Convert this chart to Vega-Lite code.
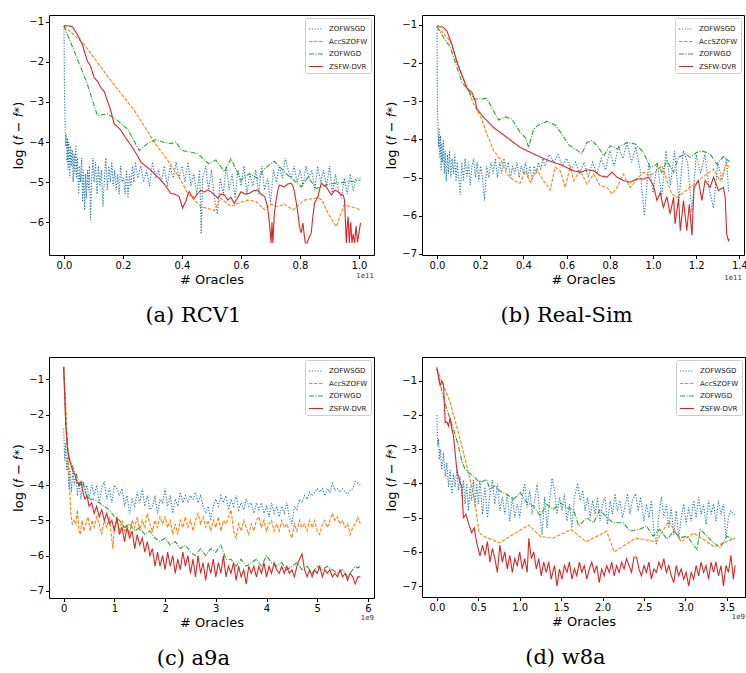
{
"$schema":"https://vega.github.io/schema/vega-lite/v6.json",
"padding":{"left":12,"top":14,"right":0,"bottom":0},
"config":{
"font":"DejaVu Sans",
"view":{"stroke":"black","strokeWidth":1},
"axis":{"grid":false,"domain":false,"tickColor":"black","tickSize":3.5,"tickCount":12,"labelFontSize":10,"labelColor":"black","labelPadding":2,"labelOverlap":false,"labelFlush":false,"titleFontSize":13,"titleFontWeight":"normal","titleColor":"black","titlePadding":3},
"legend":{"orient":"top-right","offset":3,"padding":3,"fillColor":"white","strokeColor":"#cccccc","cornerRadius":2,"labelFontSize":7,"labelColor":"#222","symbolType":"stroke","symbolSize":196,"symbolStrokeWidth":1.2,"rowPadding":1.5,"labelOffset":5},
"title":{"font":"DejaVu Serif","fontSize":21,"fontWeight":"normal","color":"black"}
},
"datasets":{
"a":[
{"s":"ZOFWSGD","x":0,"y":-1.1},{"s":"ZOFWSGD","x":0.002,"y":-3.0},{"s":"ZOFWSGD","x":0.004,"y":-3.6},{"s":"ZOFWSGD","x":0.006,"y":-4.1},{"s":"ZOFWSGD","x":0.008,"y":-3.8},{"s":"ZOFWSGD","x":0.01,"y":-4.5},{"s":"ZOFWSGD","x":0.012,"y":-3.9},{"s":"ZOFWSGD","x":0.014,"y":-4.7},{"s":"ZOFWSGD","x":0.016,"y":-4.0},{"s":"ZOFWSGD","x":0.018,"y":-4.4},{"s":"ZOFWSGD","x":0.02,"y":-4.9},{"s":"ZOFWSGD","x":0.022,"y":-4.1},{"s":"ZOFWSGD","x":0.025,"y":-4.6},{"s":"ZOFWSGD","x":0.028,"y":-4.2},{"s":"ZOFWSGD","x":0.031,"y":-5.0},{"s":"ZOFWSGD","x":0.034,"y":-4.3},{"s":"ZOFWSGD","x":0.037,"y":-4.8},{"s":"ZOFWSGD","x":0.04,"y":-4.1},{"s":"ZOFWSGD","x":0.043,"y":-4.9},{"s":"ZOFWSGD","x":0.046,"y":-4.4},{"s":"ZOFWSGD","x":0.05,"y":-5.3},{"s":"ZOFWSGD","x":0.053,"y":-4.6},{"s":"ZOFWSGD","x":0.056,"y":-5.0},{"s":"ZOFWSGD","x":0.06,"y":-4.4},{"s":"ZOFWSGD","x":0.063,"y":-5.5},{"s":"ZOFWSGD","x":0.066,"y":-4.7},{"s":"ZOFWSGD","x":0.07,"y":-5.7},{"s":"ZOFWSGD","x":0.073,"y":-4.8},{"s":"ZOFWSGD","x":0.076,"y":-5.4},{"s":"ZOFWSGD","x":0.08,"y":-4.7},{"s":"ZOFWSGD","x":0.083,"y":-5.2},{"s":"ZOFWSGD","x":0.086,"y":-4.6},{"s":"ZOFWSGD","x":0.09,"y":-5.95},{"s":"ZOFWSGD","x":0.094,"y":-4.9},{"s":"ZOFWSGD","x":0.098,"y":-4.4},{"s":"ZOFWSGD","x":0.102,"y":-5.0},{"s":"ZOFWSGD","x":0.107,"y":-4.5},{"s":"ZOFWSGD","x":0.112,"y":-5.3},{"s":"ZOFWSGD","x":0.117,"y":-4.6},{"s":"ZOFWSGD","x":0.122,"y":-5.1},{"s":"ZOFWSGD","x":0.127,"y":-4.7},{"s":"ZOFWSGD","x":0.132,"y":-5.6},{"s":"ZOFWSGD","x":0.137,"y":-4.9},{"s":"ZOFWSGD","x":0.142,"y":-4.4},{"s":"ZOFWSGD","x":0.147,"y":-5.2},{"s":"ZOFWSGD","x":0.152,"y":-4.6},{"s":"ZOFWSGD","x":0.157,"y":-5.0},{"s":"ZOFWSGD","x":0.162,"y":-4.5},{"s":"ZOFWSGD","x":0.167,"y":-5.1},{"s":"ZOFWSGD","x":0.172,"y":-4.7},{"s":"ZOFWSGD","x":0.177,"y":-5.2},{"s":"ZOFWSGD","x":0.182,"y":-4.8},{"s":"ZOFWSGD","x":0.187,"y":-5.3},{"s":"ZOFWSGD","x":0.192,"y":-4.6},{"s":"ZOFWSGD","x":0.197,"y":-5.0},{"s":"ZOFWSGD","x":0.202,"y":-4.9},{"s":"ZOFWSGD","x":0.207,"y":-5.3},{"s":"ZOFWSGD","x":0.212,"y":-4.7},{"s":"ZOFWSGD","x":0.217,"y":-5.4},{"s":"ZOFWSGD","x":0.222,"y":-4.8},{"s":"ZOFWSGD","x":0.227,"y":-5.1},{"s":"ZOFWSGD","x":0.232,"y":-4.6},{"s":"ZOFWSGD","x":0.237,"y":-5.0},{"s":"ZOFWSGD","x":0.242,"y":-4.5},{"s":"ZOFWSGD","x":0.25,"y":-4.9},{"s":"ZOFWSGD","x":0.26,"y":-4.6},{"s":"ZOFWSGD","x":0.27,"y":-5.0},{"s":"ZOFWSGD","x":0.28,"y":-4.7},{"s":"ZOFWSGD","x":0.29,"y":-5.1},{"s":"ZOFWSGD","x":0.3,"y":-4.5},{"s":"ZOFWSGD","x":0.31,"y":-4.9},{"s":"ZOFWSGD","x":0.32,"y":-4.7},{"s":"ZOFWSGD","x":0.33,"y":-5.0},{"s":"ZOFWSGD","x":0.34,"y":-4.6},{"s":"ZOFWSGD","x":0.35,"y":-5.1},{"s":"ZOFWSGD","x":0.36,"y":-4.6},{"s":"ZOFWSGD","x":0.37,"y":-4.9},{"s":"ZOFWSGD","x":0.38,"y":-4.5},{"s":"ZOFWSGD","x":0.39,"y":-4.9},{"s":"ZOFWSGD","x":0.4,"y":-4.6},{"s":"ZOFWSGD","x":0.41,"y":-5.0},{"s":"ZOFWSGD","x":0.42,"y":-4.5},{"s":"ZOFWSGD","x":0.43,"y":-5.1},{"s":"ZOFWSGD","x":0.44,"y":-4.8},{"s":"ZOFWSGD","x":0.45,"y":-5.3},{"s":"ZOFWSGD","x":0.46,"y":-4.7},{"s":"ZOFWSGD","x":0.465,"y":-6.3},{"s":"ZOFWSGD","x":0.47,"y":-4.9},{"s":"ZOFWSGD","x":0.48,"y":-4.6},{"s":"ZOFWSGD","x":0.49,"y":-5.2},{"s":"ZOFWSGD","x":0.5,"y":-4.7},{"s":"ZOFWSGD","x":0.51,"y":-5.4},{"s":"ZOFWSGD","x":0.52,"y":-5.8},{"s":"ZOFWSGD","x":0.53,"y":-4.9},{"s":"ZOFWSGD","x":0.54,"y":-5.3},{"s":"ZOFWSGD","x":0.55,"y":-4.6},{"s":"ZOFWSGD","x":0.56,"y":-5.2},{"s":"ZOFWSGD","x":0.57,"y":-4.8},{"s":"ZOFWSGD","x":0.58,"y":-5.4},{"s":"ZOFWSGD","x":0.59,"y":-4.7},{"s":"ZOFWSGD","x":0.6,"y":-5.1},{"s":"ZOFWSGD","x":0.61,"y":-4.6},{"s":"ZOFWSGD","x":0.62,"y":-5.3},{"s":"ZOFWSGD","x":0.63,"y":-4.8},{"s":"ZOFWSGD","x":0.64,"y":-5.1},{"s":"ZOFWSGD","x":0.65,"y":-4.7},{"s":"ZOFWSGD","x":0.66,"y":-5.3},{"s":"ZOFWSGD","x":0.67,"y":-4.6},{"s":"ZOFWSGD","x":0.68,"y":-5.2},{"s":"ZOFWSGD","x":0.69,"y":-4.9},{"s":"ZOFWSGD","x":0.7,"y":-5.5},{"s":"ZOFWSGD","x":0.71,"y":-4.7},{"s":"ZOFWSGD","x":0.72,"y":-5.0},{"s":"ZOFWSGD","x":0.73,"y":-4.6},{"s":"ZOFWSGD","x":0.74,"y":-4.9},{"s":"ZOFWSGD","x":0.75,"y":-4.4},{"s":"ZOFWSGD","x":0.76,"y":-4.7},{"s":"ZOFWSGD","x":0.77,"y":-4.9},{"s":"ZOFWSGD","x":0.78,"y":-4.6},{"s":"ZOFWSGD","x":0.79,"y":-5.0},{"s":"ZOFWSGD","x":0.8,"y":-4.7},{"s":"ZOFWSGD","x":0.81,"y":-5.1},{"s":"ZOFWSGD","x":0.82,"y":-4.6},{"s":"ZOFWSGD","x":0.83,"y":-4.9},{"s":"ZOFWSGD","x":0.84,"y":-4.7},{"s":"ZOFWSGD","x":0.85,"y":-5.2},{"s":"ZOFWSGD","x":0.86,"y":-4.6},{"s":"ZOFWSGD","x":0.87,"y":-5.0},{"s":"ZOFWSGD","x":0.88,"y":-4.7},{"s":"ZOFWSGD","x":0.89,"y":-5.1},{"s":"ZOFWSGD","x":0.9,"y":-4.6},{"s":"ZOFWSGD","x":0.91,"y":-5.3},{"s":"ZOFWSGD","x":0.92,"y":-4.8},{"s":"ZOFWSGD","x":0.93,"y":-5.2},{"s":"ZOFWSGD","x":0.94,"y":-5.4},{"s":"ZOFWSGD","x":0.95,"y":-4.9},{"s":"ZOFWSGD","x":0.96,"y":-5.3},{"s":"ZOFWSGD","x":0.97,"y":-4.8},{"s":"ZOFWSGD","x":0.98,"y":-5.2},{"s":"ZOFWSGD","x":0.99,"y":-4.9},{"s":"ZOFWSGD","x":1.005,"y":-4.9},
{"s":"AccSZOFW","x":0,"y":-1.1},{"s":"AccSZOFW","x":0.068,"y":-1.56},{"s":"AccSZOFW","x":0.159,"y":-2.47},{"s":"AccSZOFW","x":0.238,"y":-3.21},{"s":"AccSZOFW","x":0.317,"y":-4.12},{"s":"AccSZOFW","x":0.351,"y":-4.45},{"s":"AccSZOFW","x":0.396,"y":-4.95},{"s":"AccSZOFW","x":0.419,"y":-5.28},{"s":"AccSZOFW","x":0.464,"y":-5.61},{"s":"AccSZOFW","x":0.51,"y":-5.71},{"s":"AccSZOFW","x":0.53,"y":-5.4},{"s":"AccSZOFW","x":0.566,"y":-5.61},{"s":"AccSZOFW","x":0.6,"y":-5.5},{"s":"AccSZOFW","x":0.623,"y":-5.45},{"s":"AccSZOFW","x":0.65,"y":-5.48},{"s":"AccSZOFW","x":0.68,"y":-5.69},{"s":"AccSZOFW","x":0.7,"y":-5.55},{"s":"AccSZOFW","x":0.725,"y":-5.61},{"s":"AccSZOFW","x":0.747,"y":-5.55},{"s":"AccSZOFW","x":0.776,"y":-5.69},{"s":"AccSZOFW","x":0.815,"y":-5.45},{"s":"AccSZOFW","x":0.86,"y":-5.39},{"s":"AccSZOFW","x":0.875,"y":-5.45},{"s":"AccSZOFW","x":0.895,"y":-5.78},{"s":"AccSZOFW","x":0.923,"y":-6.11},{"s":"AccSZOFW","x":0.95,"y":-5.57},{"s":"AccSZOFW","x":0.975,"y":-5.62},{"s":"AccSZOFW","x":1.005,"y":-5.69},
{"s":"ZOFWGD","x":0,"y":-1.1},{"s":"ZOFWGD","x":0.057,"y":-2.14},{"s":"ZOFWGD","x":0.079,"y":-2.55},{"s":"ZOFWGD","x":0.113,"y":-3.34},{"s":"ZOFWGD","x":0.147,"y":-3.3},{"s":"ZOFWGD","x":0.181,"y":-3.46},{"s":"ZOFWGD","x":0.215,"y":-3.67},{"s":"ZOFWGD","x":0.255,"y":-4.21},{"s":"ZOFWGD","x":0.283,"y":-4.04},{"s":"ZOFWGD","x":0.311,"y":-3.94},{"s":"ZOFWGD","x":0.335,"y":-4.0},{"s":"ZOFWGD","x":0.362,"y":-4.04},{"s":"ZOFWGD","x":0.379,"y":-4.0},{"s":"ZOFWGD","x":0.4,"y":-4.21},{"s":"ZOFWGD","x":0.453,"y":-4.29},{"s":"ZOFWGD","x":0.49,"y":-4.54},{"s":"ZOFWGD","x":0.515,"y":-4.45},{"s":"ZOFWGD","x":0.544,"y":-4.74},{"s":"ZOFWGD","x":0.566,"y":-4.41},{"s":"ZOFWGD","x":0.6,"y":-4.95},{"s":"ZOFWGD","x":0.628,"y":-4.79},{"s":"ZOFWGD","x":0.657,"y":-4.91},{"s":"ZOFWGD","x":0.68,"y":-4.66},{"s":"ZOFWGD","x":0.713,"y":-4.48},{"s":"ZOFWGD","x":0.759,"y":-4.83},{"s":"ZOFWGD","x":0.804,"y":-5.12},{"s":"ZOFWGD","x":0.827,"y":-4.87},{"s":"ZOFWGD","x":0.855,"y":-5.16},{"s":"ZOFWGD","x":0.889,"y":-5.07},{"s":"ZOFWGD","x":0.917,"y":-5.03},{"s":"ZOFWGD","x":0.96,"y":-5.0},{"s":"ZOFWGD","x":1.005,"y":-4.95},
{"s":"ZSFW-DVR","x":0,"y":-1.1},{"s":"ZSFW-DVR","x":0.015,"y":-1.1},{"s":"ZSFW-DVR","x":0.028,"y":-1.12},{"s":"ZSFW-DVR","x":0.045,"y":-1.31},{"s":"ZSFW-DVR","x":0.062,"y":-1.56},{"s":"ZSFW-DVR","x":0.079,"y":-1.98},{"s":"ZSFW-DVR","x":0.09,"y":-2.1},{"s":"ZSFW-DVR","x":0.102,"y":-2.39},{"s":"ZSFW-DVR","x":0.115,"y":-2.5},{"s":"ZSFW-DVR","x":0.125,"y":-2.64},{"s":"ZSFW-DVR","x":0.137,"y":-2.75},{"s":"ZSFW-DVR","x":0.147,"y":-2.97},{"s":"ZSFW-DVR","x":0.158,"y":-3.2},{"s":"ZSFW-DVR","x":0.17,"y":-3.55},{"s":"ZSFW-DVR","x":0.182,"y":-3.62},{"s":"ZSFW-DVR","x":0.193,"y":-3.71},{"s":"ZSFW-DVR","x":0.205,"y":-3.85},{"s":"ZSFW-DVR","x":0.215,"y":-3.96},{"s":"ZSFW-DVR","x":0.227,"y":-4.08},{"s":"ZSFW-DVR","x":0.238,"y":-4.21},{"s":"ZSFW-DVR","x":0.25,"y":-4.35},{"s":"ZSFW-DVR","x":0.26,"y":-4.5},{"s":"ZSFW-DVR","x":0.277,"y":-4.6},{"s":"ZSFW-DVR","x":0.294,"y":-4.7},{"s":"ZSFW-DVR","x":0.31,"y":-4.82},{"s":"ZSFW-DVR","x":0.328,"y":-4.95},{"s":"ZSFW-DVR","x":0.345,"y":-5.1},{"s":"ZSFW-DVR","x":0.362,"y":-5.28},{"s":"ZSFW-DVR","x":0.375,"y":-5.3},{"s":"ZSFW-DVR","x":0.39,"y":-5.36},{"s":"ZSFW-DVR","x":0.396,"y":-5.5},{"s":"ZSFW-DVR","x":0.402,"y":-5.65},{"s":"ZSFW-DVR","x":0.408,"y":-5.55},{"s":"ZSFW-DVR","x":0.413,"y":-5.49},{"s":"ZSFW-DVR","x":0.42,"y":-5.3},{"s":"ZSFW-DVR","x":0.425,"y":-5.24},{"s":"ZSFW-DVR","x":0.433,"y":-5.35},{"s":"ZSFW-DVR","x":0.442,"y":-5.4},{"s":"ZSFW-DVR","x":0.452,"y":-5.3},{"s":"ZSFW-DVR","x":0.464,"y":-5.2},{"s":"ZSFW-DVR","x":0.475,"y":-5.25},{"s":"ZSFW-DVR","x":0.487,"y":-5.2},{"s":"ZSFW-DVR","x":0.498,"y":-5.24},{"s":"ZSFW-DVR","x":0.51,"y":-5.32},{"s":"ZSFW-DVR","x":0.521,"y":-5.4},{"s":"ZSFW-DVR","x":0.532,"y":-5.3},{"s":"ZSFW-DVR","x":0.544,"y":-5.32},{"s":"ZSFW-DVR","x":0.555,"y":-5.45},{"s":"ZSFW-DVR","x":0.566,"y":-5.38},{"s":"ZSFW-DVR","x":0.577,"y":-5.53},{"s":"ZSFW-DVR","x":0.588,"y":-5.4},{"s":"ZSFW-DVR","x":0.6,"y":-5.24},{"s":"ZSFW-DVR","x":0.614,"y":-5.3},{"s":"ZSFW-DVR","x":0.628,"y":-5.28},{"s":"ZSFW-DVR","x":0.642,"y":-5.22},{"s":"ZSFW-DVR","x":0.657,"y":-5.2},{"s":"ZSFW-DVR","x":0.668,"y":-5.3},{"s":"ZSFW-DVR","x":0.68,"y":-5.36},{"s":"ZSFW-DVR","x":0.69,"y":-5.61},{"s":"ZSFW-DVR","x":0.696,"y":-6.0},{"s":"ZSFW-DVR","x":0.702,"y":-6.52},{"s":"ZSFW-DVR","x":0.705,"y":-6.0},{"s":"ZSFW-DVR","x":0.708,"y":-6.52},{"s":"ZSFW-DVR","x":0.713,"y":-5.8},{"s":"ZSFW-DVR","x":0.719,"y":-5.45},{"s":"ZSFW-DVR","x":0.725,"y":-5.2},{"s":"ZSFW-DVR","x":0.73,"y":-5.07},{"s":"ZSFW-DVR","x":0.74,"y":-5.1},{"s":"ZSFW-DVR","x":0.747,"y":-5.12},{"s":"ZSFW-DVR","x":0.758,"y":-5.05},{"s":"ZSFW-DVR","x":0.77,"y":-5.03},{"s":"ZSFW-DVR","x":0.776,"y":-5.1},{"s":"ZSFW-DVR","x":0.781,"y":-5.24},{"s":"ZSFW-DVR","x":0.787,"y":-5.5},{"s":"ZSFW-DVR","x":0.793,"y":-5.78},{"s":"ZSFW-DVR","x":0.798,"y":-6.1},{"s":"ZSFW-DVR","x":0.804,"y":-6.27},{"s":"ZSFW-DVR","x":0.81,"y":-6.02},{"s":"ZSFW-DVR","x":0.814,"y":-6.3},{"s":"ZSFW-DVR","x":0.818,"y":-6.52},{"s":"ZSFW-DVR","x":0.824,"y":-6.52},{"s":"ZSFW-DVR","x":0.83,"y":-6.4},{"s":"ZSFW-DVR","x":0.838,"y":-6.27},{"s":"ZSFW-DVR","x":0.843,"y":-5.9},{"s":"ZSFW-DVR","x":0.849,"y":-5.53},{"s":"ZSFW-DVR","x":0.855,"y":-5.45},{"s":"ZSFW-DVR","x":0.861,"y":-5.36},{"s":"ZSFW-DVR","x":0.866,"y":-5.2},{"s":"ZSFW-DVR","x":0.872,"y":-5.02},{"s":"ZSFW-DVR","x":0.88,"y":-5.08},{"s":"ZSFW-DVR","x":0.889,"y":-5.12},{"s":"ZSFW-DVR","x":0.9,"y":-5.25},{"s":"ZSFW-DVR","x":0.906,"y":-5.32},{"s":"ZSFW-DVR","x":0.918,"y":-5.2},{"s":"ZSFW-DVR","x":0.929,"y":-5.24},{"s":"ZSFW-DVR","x":0.937,"y":-5.3},{"s":"ZSFW-DVR","x":0.946,"y":-5.32},{"s":"ZSFW-DVR","x":0.951,"y":-5.45},{"s":"ZSFW-DVR","x":0.954,"y":-6.0},{"s":"ZSFW-DVR","x":0.957,"y":-6.52},{"s":"ZSFW-DVR","x":0.96,"y":-6.1},{"s":"ZSFW-DVR","x":0.963,"y":-5.86},{"s":"ZSFW-DVR","x":0.967,"y":-6.52},{"s":"ZSFW-DVR","x":0.972,"y":-6.0},{"s":"ZSFW-DVR","x":0.976,"y":-6.52},{"s":"ZSFW-DVR","x":0.98,"y":-6.3},{"s":"ZSFW-DVR","x":0.985,"y":-6.52},{"s":"ZSFW-DVR","x":0.99,"y":-6.1},{"s":"ZSFW-DVR","x":0.995,"y":-6.5},{"s":"ZSFW-DVR","x":1.005,"y":-6.02}
],
"b":[
{"s":"ZOFWSGD","x":0,"y":-1.05},{"s":"ZOFWSGD","x":0.002,"y":-3.2},{"s":"ZOFWSGD","x":0.004,"y":-3.6},{"s":"ZOFWSGD","x":0.007,"y":-4.2},{"s":"ZOFWSGD","x":0.01,"y":-3.7},{"s":"ZOFWSGD","x":0.013,"y":-4.5},{"s":"ZOFWSGD","x":0.016,"y":-3.9},{"s":"ZOFWSGD","x":0.019,"y":-4.8},{"s":"ZOFWSGD","x":0.022,"y":-4.1},{"s":"ZOFWSGD","x":0.026,"y":-4.6},{"s":"ZOFWSGD","x":0.03,"y":-4.0},{"s":"ZOFWSGD","x":0.034,"y":-4.9},{"s":"ZOFWSGD","x":0.038,"y":-4.3},{"s":"ZOFWSGD","x":0.043,"y":-5.1},{"s":"ZOFWSGD","x":0.048,"y":-4.4},{"s":"ZOFWSGD","x":0.053,"y":-4.9},{"s":"ZOFWSGD","x":0.058,"y":-4.3},{"s":"ZOFWSGD","x":0.064,"y":-5.0},{"s":"ZOFWSGD","x":0.07,"y":-4.5},{"s":"ZOFWSGD","x":0.076,"y":-4.9},{"s":"ZOFWSGD","x":0.082,"y":-4.4},{"s":"ZOFWSGD","x":0.088,"y":-5.1},{"s":"ZOFWSGD","x":0.094,"y":-4.6},{"s":"ZOFWSGD","x":0.1,"y":-5.0},{"s":"ZOFWSGD","x":0.108,"y":-5.45},{"s":"ZOFWSGD","x":0.115,"y":-4.6},{"s":"ZOFWSGD","x":0.122,"y":-5.1},{"s":"ZOFWSGD","x":0.13,"y":-4.5},{"s":"ZOFWSGD","x":0.138,"y":-5.0},{"s":"ZOFWSGD","x":0.146,"y":-4.6},{"s":"ZOFWSGD","x":0.154,"y":-5.2},{"s":"ZOFWSGD","x":0.162,"y":-4.7},{"s":"ZOFWSGD","x":0.17,"y":-4.5},{"s":"ZOFWSGD","x":0.178,"y":-5.0},{"s":"ZOFWSGD","x":0.186,"y":-4.6},{"s":"ZOFWSGD","x":0.194,"y":-5.1},{"s":"ZOFWSGD","x":0.202,"y":-4.7},{"s":"ZOFWSGD","x":0.21,"y":-5.0},{"s":"ZOFWSGD","x":0.22,"y":-5.6},{"s":"ZOFWSGD","x":0.23,"y":-4.7},{"s":"ZOFWSGD","x":0.24,"y":-5.0},{"s":"ZOFWSGD","x":0.25,"y":-4.6},{"s":"ZOFWSGD","x":0.26,"y":-4.9},{"s":"ZOFWSGD","x":0.27,"y":-4.5},{"s":"ZOFWSGD","x":0.28,"y":-5.0},{"s":"ZOFWSGD","x":0.29,"y":-4.6},{"s":"ZOFWSGD","x":0.3,"y":-4.9},{"s":"ZOFWSGD","x":0.31,"y":-4.5},{"s":"ZOFWSGD","x":0.32,"y":-4.8},{"s":"ZOFWSGD","x":0.33,"y":-4.6},{"s":"ZOFWSGD","x":0.34,"y":-5.0},{"s":"ZOFWSGD","x":0.35,"y":-4.7},{"s":"ZOFWSGD","x":0.36,"y":-4.9},{"s":"ZOFWSGD","x":0.37,"y":-4.6},{"s":"ZOFWSGD","x":0.38,"y":-5.0},{"s":"ZOFWSGD","x":0.39,"y":-4.7},{"s":"ZOFWSGD","x":0.4,"y":-4.9},{"s":"ZOFWSGD","x":0.41,"y":-4.6},{"s":"ZOFWSGD","x":0.42,"y":-5.0},{"s":"ZOFWSGD","x":0.43,"y":-4.7},{"s":"ZOFWSGD","x":0.44,"y":-5.1},{"s":"ZOFWSGD","x":0.45,"y":-4.7},{"s":"ZOFWSGD","x":0.46,"y":-4.9},{"s":"ZOFWSGD","x":0.47,"y":-4.6},{"s":"ZOFWSGD","x":0.48,"y":-4.8},{"s":"ZOFWSGD","x":0.49,"y":-4.5},{"s":"ZOFWSGD","x":0.5,"y":-4.7},{"s":"ZOFWSGD","x":0.52,"y":-4.4},{"s":"ZOFWSGD","x":0.54,"y":-4.6},{"s":"ZOFWSGD","x":0.56,"y":-4.4},{"s":"ZOFWSGD","x":0.58,"y":-4.7},{"s":"ZOFWSGD","x":0.6,"y":-4.5},{"s":"ZOFWSGD","x":0.62,"y":-4.8},{"s":"ZOFWSGD","x":0.64,"y":-4.6},{"s":"ZOFWSGD","x":0.66,"y":-4.9},{"s":"ZOFWSGD","x":0.68,"y":-4.6},{"s":"ZOFWSGD","x":0.7,"y":-5.0},{"s":"ZOFWSGD","x":0.72,"y":-4.6},{"s":"ZOFWSGD","x":0.74,"y":-4.9},{"s":"ZOFWSGD","x":0.76,"y":-4.5},{"s":"ZOFWSGD","x":0.78,"y":-4.8},{"s":"ZOFWSGD","x":0.8,"y":-4.3},{"s":"ZOFWSGD","x":0.82,"y":-4.7},{"s":"ZOFWSGD","x":0.84,"y":-4.2},{"s":"ZOFWSGD","x":0.86,"y":-4.5},{"s":"ZOFWSGD","x":0.88,"y":-4.1},{"s":"ZOFWSGD","x":0.9,"y":-4.6},{"s":"ZOFWSGD","x":0.92,"y":-4.2},{"s":"ZOFWSGD","x":0.94,"y":-4.8},{"s":"ZOFWSGD","x":0.96,"y":-6.0},{"s":"ZOFWSGD","x":0.98,"y":-4.6},{"s":"ZOFWSGD","x":1.0,"y":-5.4},{"s":"ZOFWSGD","x":1.02,"y":-4.6},{"s":"ZOFWSGD","x":1.04,"y":-5.5},{"s":"ZOFWSGD","x":1.06,"y":-4.3},{"s":"ZOFWSGD","x":1.08,"y":-5.2},{"s":"ZOFWSGD","x":1.1,"y":-4.3},{"s":"ZOFWSGD","x":1.12,"y":-5.6},{"s":"ZOFWSGD","x":1.14,"y":-4.3},{"s":"ZOFWSGD","x":1.16,"y":-4.6},{"s":"ZOFWSGD","x":1.18,"y":-5.9},{"s":"ZOFWSGD","x":1.2,"y":-4.4},{"s":"ZOFWSGD","x":1.22,"y":-4.9},{"s":"ZOFWSGD","x":1.24,"y":-4.4},{"s":"ZOFWSGD","x":1.26,"y":-5.3},{"s":"ZOFWSGD","x":1.28,"y":-5.8},{"s":"ZOFWSGD","x":1.3,"y":-4.6},{"s":"ZOFWSGD","x":1.32,"y":-5.1},{"s":"ZOFWSGD","x":1.34,"y":-4.5},{"s":"ZOFWSGD","x":1.35,"y":-5.4},
{"s":"AccSZOFW","x":0,"y":-1.05},{"s":"AccSZOFW","x":0.062,"y":-1.42},{"s":"AccSZOFW","x":0.108,"y":-2.2},{"s":"AccSZOFW","x":0.139,"y":-2.64},{"s":"AccSZOFW","x":0.17,"y":-3.08},{"s":"AccSZOFW","x":0.2,"y":-3.38},{"s":"AccSZOFW","x":0.231,"y":-3.86},{"s":"AccSZOFW","x":0.262,"y":-4.3},{"s":"AccSZOFW","x":0.293,"y":-4.51},{"s":"AccSZOFW","x":0.324,"y":-4.91},{"s":"AccSZOFW","x":0.355,"y":-5.08},{"s":"AccSZOFW","x":0.385,"y":-5.15},{"s":"AccSZOFW","x":0.409,"y":-4.82},{"s":"AccSZOFW","x":0.432,"y":-5.12},{"s":"AccSZOFW","x":0.462,"y":-4.78},{"s":"AccSZOFW","x":0.493,"y":-5.08},{"s":"AccSZOFW","x":0.524,"y":-5.33},{"s":"AccSZOFW","x":0.547,"y":-4.73},{"s":"AccSZOFW","x":0.57,"y":-4.82},{"s":"AccSZOFW","x":0.594,"y":-5.26},{"s":"AccSZOFW","x":0.617,"y":-4.69},{"s":"AccSZOFW","x":0.632,"y":-5.08},{"s":"AccSZOFW","x":0.663,"y":-4.82},{"s":"AccSZOFW","x":0.694,"y":-5.17},{"s":"AccSZOFW","x":0.725,"y":-4.91},{"s":"AccSZOFW","x":0.755,"y":-5.21},{"s":"AccSZOFW","x":0.786,"y":-5.26},{"s":"AccSZOFW","x":0.81,"y":-5.43},{"s":"AccSZOFW","x":0.833,"y":-5.26},{"s":"AccSZOFW","x":0.863,"y":-4.91},{"s":"AccSZOFW","x":0.894,"y":-5.26},{"s":"AccSZOFW","x":0.925,"y":-5.04},{"s":"AccSZOFW","x":0.956,"y":-4.86},{"s":"AccSZOFW","x":0.987,"y":-4.95},{"s":"AccSZOFW","x":1.018,"y":-4.82},{"s":"AccSZOFW","x":1.041,"y":-4.69},{"s":"AccSZOFW","x":1.064,"y":-5.08},{"s":"AccSZOFW","x":1.087,"y":-5.43},{"s":"AccSZOFW","x":1.11,"y":-5.52},{"s":"AccSZOFW","x":1.141,"y":-5.39},{"s":"AccSZOFW","x":1.172,"y":-5.26},{"s":"AccSZOFW","x":1.21,"y":-5.08},{"s":"AccSZOFW","x":1.249,"y":-4.91},{"s":"AccSZOFW","x":1.28,"y":-4.78},{"s":"AccSZOFW","x":1.31,"y":-5.08},{"s":"AccSZOFW","x":1.341,"y":-4.65},{"s":"AccSZOFW","x":1.353,"y":-4.73},
{"s":"ZOFWGD","x":0,"y":-1.05},{"s":"ZOFWGD","x":0.031,"y":-1.33},{"s":"ZOFWGD","x":0.062,"y":-1.59},{"s":"ZOFWGD","x":0.093,"y":-2.12},{"s":"ZOFWGD","x":0.116,"y":-2.51},{"s":"ZOFWGD","x":0.139,"y":-2.66},{"s":"ZOFWGD","x":0.17,"y":-2.94},{"s":"ZOFWGD","x":0.2,"y":-2.94},{"s":"ZOFWGD","x":0.231,"y":-2.93},{"s":"ZOFWGD","x":0.262,"y":-3.25},{"s":"ZOFWGD","x":0.285,"y":-3.49},{"s":"ZOFWGD","x":0.316,"y":-3.41},{"s":"ZOFWGD","x":0.347,"y":-3.47},{"s":"ZOFWGD","x":0.385,"y":-3.82},{"s":"ZOFWGD","x":0.409,"y":-3.95},{"s":"ZOFWGD","x":0.424,"y":-4.21},{"s":"ZOFWGD","x":0.447,"y":-3.73},{"s":"ZOFWGD","x":0.47,"y":-3.62},{"s":"ZOFWGD","x":0.509,"y":-3.53},{"s":"ZOFWGD","x":0.547,"y":-3.62},{"s":"ZOFWGD","x":0.578,"y":-3.86},{"s":"ZOFWGD","x":0.609,"y":-4.14},{"s":"ZOFWGD","x":0.64,"y":-4.25},{"s":"ZOFWGD","x":0.67,"y":-4.38},{"s":"ZOFWGD","x":0.694,"y":-4.08},{"s":"ZOFWGD","x":0.717,"y":-4.03},{"s":"ZOFWGD","x":0.748,"y":-4.21},{"s":"ZOFWGD","x":0.771,"y":-4.43},{"s":"ZOFWGD","x":0.802,"y":-4.17},{"s":"ZOFWGD","x":0.833,"y":-4.25},{"s":"ZOFWGD","x":0.879,"y":-4.08},{"s":"ZOFWGD","x":0.917,"y":-4.12},{"s":"ZOFWGD","x":0.956,"y":-4.34},{"s":"ZOFWGD","x":0.987,"y":-4.73},{"s":"ZOFWGD","x":1.018,"y":-4.65},{"s":"ZOFWGD","x":1.041,"y":-4.86},{"s":"ZOFWGD","x":1.064,"y":-4.56},{"s":"ZOFWGD","x":1.095,"y":-4.86},{"s":"ZOFWGD","x":1.118,"y":-4.47},{"s":"ZOFWGD","x":1.149,"y":-4.38},{"s":"ZOFWGD","x":1.172,"y":-4.47},{"s":"ZOFWGD","x":1.203,"y":-4.34},{"s":"ZOFWGD","x":1.226,"y":-4.3},{"s":"ZOFWGD","x":1.264,"y":-4.38},{"s":"ZOFWGD","x":1.295,"y":-4.65},{"s":"ZOFWGD","x":1.326,"y":-4.45},{"s":"ZOFWGD","x":1.353,"y":-4.58},
{"s":"ZSFW-DVR","x":0,"y":-1.02},{"s":"ZSFW-DVR","x":0.031,"y":-1.07},{"s":"ZSFW-DVR","x":0.046,"y":-1.16},{"s":"ZSFW-DVR","x":0.069,"y":-1.51},{"s":"ZSFW-DVR","x":0.093,"y":-1.99},{"s":"ZSFW-DVR","x":0.116,"y":-2.33},{"s":"ZSFW-DVR","x":0.139,"y":-2.66},{"s":"ZSFW-DVR","x":0.162,"y":-2.77},{"s":"ZSFW-DVR","x":0.177,"y":-2.99},{"s":"ZSFW-DVR","x":0.185,"y":-3.21},{"s":"ZSFW-DVR","x":0.216,"y":-3.42},{"s":"ZSFW-DVR","x":0.262,"y":-3.69},{"s":"ZSFW-DVR","x":0.324,"y":-3.95},{"s":"ZSFW-DVR","x":0.385,"y":-4.21},{"s":"ZSFW-DVR","x":0.447,"y":-4.38},{"s":"ZSFW-DVR","x":0.509,"y":-4.54},{"s":"ZSFW-DVR","x":0.57,"y":-4.66},{"s":"ZSFW-DVR","x":0.632,"y":-4.82},{"s":"ZSFW-DVR","x":0.665,"y":-4.86},{"s":"ZSFW-DVR","x":0.694,"y":-4.8},{"s":"ZSFW-DVR","x":0.725,"y":-4.82},{"s":"ZSFW-DVR","x":0.755,"y":-4.95},{"s":"ZSFW-DVR","x":0.786,"y":-4.99},{"s":"ZSFW-DVR","x":0.81,"y":-4.86},{"s":"ZSFW-DVR","x":0.833,"y":-4.99},{"s":"ZSFW-DVR","x":0.863,"y":-5.08},{"s":"ZSFW-DVR","x":0.894,"y":-5.12},{"s":"ZSFW-DVR","x":0.925,"y":-5.04},{"s":"ZSFW-DVR","x":0.956,"y":-5.04},{"s":"ZSFW-DVR","x":0.979,"y":-4.99},{"s":"ZSFW-DVR","x":1.002,"y":-5.21},{"s":"ZSFW-DVR","x":1.018,"y":-5.6},{"s":"ZSFW-DVR","x":1.033,"y":-5.4},{"s":"ZSFW-DVR","x":1.048,"y":-5.78},{"s":"ZSFW-DVR","x":1.064,"y":-5.5},{"s":"ZSFW-DVR","x":1.079,"y":-5.95},{"s":"ZSFW-DVR","x":1.095,"y":-5.52},{"s":"ZSFW-DVR","x":1.102,"y":-6.21},{"s":"ZSFW-DVR","x":1.118,"y":-5.55},{"s":"ZSFW-DVR","x":1.126,"y":-6.39},{"s":"ZSFW-DVR","x":1.141,"y":-5.6},{"s":"ZSFW-DVR","x":1.156,"y":-6.39},{"s":"ZSFW-DVR","x":1.168,"y":-5.7},{"s":"ZSFW-DVR","x":1.18,"y":-6.52},{"s":"ZSFW-DVR","x":1.19,"y":-5.26},{"s":"ZSFW-DVR","x":1.21,"y":-5.08},{"s":"ZSFW-DVR","x":1.226,"y":-5.6},{"s":"ZSFW-DVR","x":1.241,"y":-5.08},{"s":"ZSFW-DVR","x":1.264,"y":-5.26},{"s":"ZSFW-DVR","x":1.28,"y":-4.99},{"s":"ZSFW-DVR","x":1.303,"y":-5.34},{"s":"ZSFW-DVR","x":1.326,"y":-5.26},{"s":"ZSFW-DVR","x":1.334,"y":-5.52},{"s":"ZSFW-DVR","x":1.341,"y":-6.48},{"s":"ZSFW-DVR","x":1.349,"y":-6.65},{"s":"ZSFW-DVR","x":1.353,"y":-6.61}
],
"c":[
{"s":"ZOFWSGD","x":0,"y":-2.4},{"s":"ZOFWSGD","x":0.02,"y":-3.3},{"s":"ZOFWSGD","x":0.04,"y":-2.8},{"s":"ZOFWSGD","x":0.06,"y":-3.6},{"s":"ZOFWSGD","x":0.08,"y":-3.2},{"s":"ZOFWSGD","x":0.1,"y":-4.1},{"s":"ZOFWSGD","x":0.12,"y":-3.5},{"s":"ZOFWSGD","x":0.15,"y":-4.2},{"s":"ZOFWSGD","x":0.18,"y":-3.6},{"s":"ZOFWSGD","x":0.21,"y":-4.0},{"s":"ZOFWSGD","x":0.24,"y":-3.7},{"s":"ZOFWSGD","x":0.27,"y":-4.3},{"s":"ZOFWSGD","x":0.3,"y":-3.9},{"s":"ZOFWSGD","x":0.34,"y":-4.4},{"s":"ZOFWSGD","x":0.38,"y":-3.9},{"s":"ZOFWSGD","x":0.42,"y":-4.2},{"s":"ZOFWSGD","x":0.46,"y":-4.0},{"s":"ZOFWSGD","x":0.5,"y":-4.4},{"s":"ZOFWSGD","x":0.55,"y":-4.0},{"s":"ZOFWSGD","x":0.6,"y":-4.3},{"s":"ZOFWSGD","x":0.65,"y":-4.0},{"s":"ZOFWSGD","x":0.7,"y":-4.5},{"s":"ZOFWSGD","x":0.75,"y":-4.1},{"s":"ZOFWSGD","x":0.8,"y":-3.9},{"s":"ZOFWSGD","x":0.85,"y":-4.4},{"s":"ZOFWSGD","x":0.9,"y":-4.1},{"s":"ZOFWSGD","x":0.95,"y":-4.5},{"s":"ZOFWSGD","x":1.0,"y":-4.0},{"s":"ZOFWSGD","x":1.05,"y":-4.1},{"s":"ZOFWSGD","x":1.1,"y":-4.3},{"s":"ZOFWSGD","x":1.15,"y":-4.1},{"s":"ZOFWSGD","x":1.2,"y":-4.6},{"s":"ZOFWSGD","x":1.25,"y":-4.3},{"s":"ZOFWSGD","x":1.3,"y":-4.8},{"s":"ZOFWSGD","x":1.35,"y":-4.4},{"s":"ZOFWSGD","x":1.4,"y":-4.6},{"s":"ZOFWSGD","x":1.45,"y":-4.2},{"s":"ZOFWSGD","x":1.5,"y":-4.5},{"s":"ZOFWSGD","x":1.55,"y":-4.1},{"s":"ZOFWSGD","x":1.6,"y":-4.6},{"s":"ZOFWSGD","x":1.65,"y":-4.3},{"s":"ZOFWSGD","x":1.7,"y":-4.7},{"s":"ZOFWSGD","x":1.75,"y":-4.6},{"s":"ZOFWSGD","x":1.8,"y":-4.3},{"s":"ZOFWSGD","x":1.85,"y":-4.8},{"s":"ZOFWSGD","x":1.9,"y":-4.4},{"s":"ZOFWSGD","x":1.95,"y":-4.5},{"s":"ZOFWSGD","x":2.0,"y":-4.1},{"s":"ZOFWSGD","x":2.05,"y":-4.6},{"s":"ZOFWSGD","x":2.1,"y":-4.3},{"s":"ZOFWSGD","x":2.15,"y":-4.8},{"s":"ZOFWSGD","x":2.2,"y":-4.4},{"s":"ZOFWSGD","x":2.25,"y":-4.6},{"s":"ZOFWSGD","x":2.3,"y":-4.2},{"s":"ZOFWSGD","x":2.35,"y":-4.5},{"s":"ZOFWSGD","x":2.4,"y":-4.3},{"s":"ZOFWSGD","x":2.45,"y":-4.5},{"s":"ZOFWSGD","x":2.5,"y":-4.3},{"s":"ZOFWSGD","x":2.55,"y":-4.4},{"s":"ZOFWSGD","x":2.6,"y":-4.2},{"s":"ZOFWSGD","x":2.65,"y":-4.5},{"s":"ZOFWSGD","x":2.7,"y":-4.3},{"s":"ZOFWSGD","x":2.75,"y":-4.6},{"s":"ZOFWSGD","x":2.8,"y":-4.8},{"s":"ZOFWSGD","x":2.85,"y":-4.6},{"s":"ZOFWSGD","x":2.9,"y":-5.0},{"s":"ZOFWSGD","x":2.95,"y":-4.6},{"s":"ZOFWSGD","x":3.0,"y":-4.4},{"s":"ZOFWSGD","x":3.05,"y":-4.6},{"s":"ZOFWSGD","x":3.1,"y":-4.3},{"s":"ZOFWSGD","x":3.15,"y":-4.5},{"s":"ZOFWSGD","x":3.2,"y":-4.3},{"s":"ZOFWSGD","x":3.25,"y":-4.7},{"s":"ZOFWSGD","x":3.3,"y":-4.4},{"s":"ZOFWSGD","x":3.35,"y":-4.6},{"s":"ZOFWSGD","x":3.4,"y":-4.3},{"s":"ZOFWSGD","x":3.45,"y":-4.7},{"s":"ZOFWSGD","x":3.5,"y":-4.5},{"s":"ZOFWSGD","x":3.55,"y":-4.7},{"s":"ZOFWSGD","x":3.6,"y":-4.4},{"s":"ZOFWSGD","x":3.65,"y":-4.6},{"s":"ZOFWSGD","x":3.7,"y":-4.5},{"s":"ZOFWSGD","x":3.75,"y":-4.8},{"s":"ZOFWSGD","x":3.8,"y":-4.5},{"s":"ZOFWSGD","x":3.85,"y":-4.7},{"s":"ZOFWSGD","x":3.9,"y":-4.5},{"s":"ZOFWSGD","x":3.95,"y":-4.8},{"s":"ZOFWSGD","x":4.0,"y":-4.6},{"s":"ZOFWSGD","x":4.05,"y":-4.9},{"s":"ZOFWSGD","x":4.1,"y":-4.5},{"s":"ZOFWSGD","x":4.15,"y":-4.8},{"s":"ZOFWSGD","x":4.2,"y":-4.6},{"s":"ZOFWSGD","x":4.25,"y":-4.9},{"s":"ZOFWSGD","x":4.3,"y":-4.6},{"s":"ZOFWSGD","x":4.35,"y":-4.8},{"s":"ZOFWSGD","x":4.4,"y":-4.5},{"s":"ZOFWSGD","x":4.45,"y":-4.9},{"s":"ZOFWSGD","x":4.5,"y":-5.1},{"s":"ZOFWSGD","x":4.55,"y":-4.6},{"s":"ZOFWSGD","x":4.6,"y":-4.7},{"s":"ZOFWSGD","x":4.65,"y":-4.4},{"s":"ZOFWSGD","x":4.7,"y":-4.5},{"s":"ZOFWSGD","x":4.75,"y":-4.3},{"s":"ZOFWSGD","x":4.8,"y":-4.4},{"s":"ZOFWSGD","x":4.85,"y":-4.2},{"s":"ZOFWSGD","x":4.9,"y":-4.3},{"s":"ZOFWSGD","x":5.0,"y":-4.1},{"s":"ZOFWSGD","x":5.05,"y":-4.2},{"s":"ZOFWSGD","x":5.1,"y":-4.1},{"s":"ZOFWSGD","x":5.15,"y":-4.3},{"s":"ZOFWSGD","x":5.2,"y":-4.1},{"s":"ZOFWSGD","x":5.25,"y":-4.2},{"s":"ZOFWSGD","x":5.3,"y":-3.95},{"s":"ZOFWSGD","x":5.35,"y":-4.15},{"s":"ZOFWSGD","x":5.4,"y":-4.1},{"s":"ZOFWSGD","x":5.45,"y":-4.2},{"s":"ZOFWSGD","x":5.5,"y":-4.1},{"s":"ZOFWSGD","x":5.55,"y":-4.2},{"s":"ZOFWSGD","x":5.6,"y":-4.25},{"s":"ZOFWSGD","x":5.65,"y":-4.15},{"s":"ZOFWSGD","x":5.7,"y":-4.1},{"s":"ZOFWSGD","x":5.75,"y":-3.9},{"s":"ZOFWSGD","x":5.8,"y":-3.95},{"s":"ZOFWSGD","x":5.85,"y":-4.0},
{"s":"AccSZOFW","x":0,"y":-0.65},{"s":"AccSZOFW","x":0.05,"y":-2.0},{"s":"AccSZOFW","x":0.08,"y":-3.0},{"s":"AccSZOFW","x":0.1,"y":-3.6},{"s":"AccSZOFW","x":0.12,"y":-4.2},{"s":"AccSZOFW","x":0.14,"y":-4.8},{"s":"AccSZOFW","x":0.17,"y":-5.1},{"s":"AccSZOFW","x":0.2,"y":-5.0},{"s":"AccSZOFW","x":0.24,"y":-5.1},{"s":"AccSZOFW","x":0.27,"y":-4.7},{"s":"AccSZOFW","x":0.3,"y":-5.3},{"s":"AccSZOFW","x":0.33,"y":-5.4},{"s":"AccSZOFW","x":0.36,"y":-5.0},{"s":"AccSZOFW","x":0.4,"y":-5.3},{"s":"AccSZOFW","x":0.44,"y":-5.1},{"s":"AccSZOFW","x":0.48,"y":-4.9},{"s":"AccSZOFW","x":0.52,"y":-5.3},{"s":"AccSZOFW","x":0.56,"y":-5.0},{"s":"AccSZOFW","x":0.6,"y":-5.2},{"s":"AccSZOFW","x":0.65,"y":-4.9},{"s":"AccSZOFW","x":0.7,"y":-5.1},{"s":"AccSZOFW","x":0.75,"y":-5.4},{"s":"AccSZOFW","x":0.8,"y":-5.0},{"s":"AccSZOFW","x":0.85,"y":-5.2},{"s":"AccSZOFW","x":0.9,"y":-4.9},{"s":"AccSZOFW","x":0.97,"y":-5.8},{"s":"AccSZOFW","x":1.0,"y":-5.2},{"s":"AccSZOFW","x":1.05,"y":-5.0},{"s":"AccSZOFW","x":1.1,"y":-5.3},{"s":"AccSZOFW","x":1.15,"y":-5.0},{"s":"AccSZOFW","x":1.2,"y":-5.3},{"s":"AccSZOFW","x":1.25,"y":-5.1},{"s":"AccSZOFW","x":1.3,"y":-5.4},{"s":"AccSZOFW","x":1.35,"y":-5.0},{"s":"AccSZOFW","x":1.4,"y":-5.2},{"s":"AccSZOFW","x":1.45,"y":-4.9},{"s":"AccSZOFW","x":1.5,"y":-5.3},{"s":"AccSZOFW","x":1.55,"y":-5.0},{"s":"AccSZOFW","x":1.6,"y":-5.2},{"s":"AccSZOFW","x":1.65,"y":-4.8},{"s":"AccSZOFW","x":1.7,"y":-5.1},{"s":"AccSZOFW","x":1.75,"y":-5.3},{"s":"AccSZOFW","x":1.8,"y":-5.0},{"s":"AccSZOFW","x":1.85,"y":-5.2},{"s":"AccSZOFW","x":1.9,"y":-4.9},{"s":"AccSZOFW","x":1.95,"y":-5.1},{"s":"AccSZOFW","x":2.0,"y":-4.9},{"s":"AccSZOFW","x":2.05,"y":-5.2},{"s":"AccSZOFW","x":2.1,"y":-5.0},{"s":"AccSZOFW","x":2.15,"y":-5.4},{"s":"AccSZOFW","x":2.2,"y":-5.1},{"s":"AccSZOFW","x":2.25,"y":-5.4},{"s":"AccSZOFW","x":2.3,"y":-5.0},{"s":"AccSZOFW","x":2.35,"y":-5.2},{"s":"AccSZOFW","x":2.4,"y":-4.9},{"s":"AccSZOFW","x":2.45,"y":-5.2},{"s":"AccSZOFW","x":2.5,"y":-5.0},{"s":"AccSZOFW","x":2.55,"y":-5.3},{"s":"AccSZOFW","x":2.6,"y":-5.0},{"s":"AccSZOFW","x":2.65,"y":-4.8},{"s":"AccSZOFW","x":2.7,"y":-5.1},{"s":"AccSZOFW","x":2.75,"y":-4.9},{"s":"AccSZOFW","x":2.8,"y":-5.2},{"s":"AccSZOFW","x":2.85,"y":-5.0},{"s":"AccSZOFW","x":2.9,"y":-5.3},{"s":"AccSZOFW","x":2.95,"y":-5.0},{"s":"AccSZOFW","x":3.0,"y":-5.2},{"s":"AccSZOFW","x":3.05,"y":-4.9},{"s":"AccSZOFW","x":3.1,"y":-5.3},{"s":"AccSZOFW","x":3.15,"y":-5.0},{"s":"AccSZOFW","x":3.2,"y":-5.1},{"s":"AccSZOFW","x":3.25,"y":-4.9},{"s":"AccSZOFW","x":3.3,"y":-4.7},{"s":"AccSZOFW","x":3.35,"y":-5.3},{"s":"AccSZOFW","x":3.4,"y":-5.5},{"s":"AccSZOFW","x":3.45,"y":-5.1},{"s":"AccSZOFW","x":3.5,"y":-5.3},{"s":"AccSZOFW","x":3.55,"y":-5.0},{"s":"AccSZOFW","x":3.6,"y":-5.2},{"s":"AccSZOFW","x":3.65,"y":-5.4},{"s":"AccSZOFW","x":3.7,"y":-5.1},{"s":"AccSZOFW","x":3.75,"y":-5.3},{"s":"AccSZOFW","x":3.8,"y":-5.0},{"s":"AccSZOFW","x":3.85,"y":-4.9},{"s":"AccSZOFW","x":3.9,"y":-5.2},{"s":"AccSZOFW","x":3.95,"y":-5.0},{"s":"AccSZOFW","x":4.0,"y":-5.3},{"s":"AccSZOFW","x":4.05,"y":-5.1},{"s":"AccSZOFW","x":4.1,"y":-5.0},{"s":"AccSZOFW","x":4.15,"y":-5.3},{"s":"AccSZOFW","x":4.2,"y":-5.1},{"s":"AccSZOFW","x":4.25,"y":-5.3},{"s":"AccSZOFW","x":4.3,"y":-5.0},{"s":"AccSZOFW","x":4.35,"y":-5.2},{"s":"AccSZOFW","x":4.4,"y":-5.1},{"s":"AccSZOFW","x":4.45,"y":-5.3},{"s":"AccSZOFW","x":4.5,"y":-5.5},{"s":"AccSZOFW","x":4.55,"y":-5.1},{"s":"AccSZOFW","x":4.6,"y":-5.3},{"s":"AccSZOFW","x":4.65,"y":-5.0},{"s":"AccSZOFW","x":4.7,"y":-5.2},{"s":"AccSZOFW","x":4.75,"y":-5.1},{"s":"AccSZOFW","x":4.8,"y":-5.3},{"s":"AccSZOFW","x":4.85,"y":-5.0},{"s":"AccSZOFW","x":4.9,"y":-5.2},{"s":"AccSZOFW","x":4.95,"y":-5.0},{"s":"AccSZOFW","x":5.0,"y":-5.3},{"s":"AccSZOFW","x":5.05,"y":-5.4},{"s":"AccSZOFW","x":5.1,"y":-5.1},{"s":"AccSZOFW","x":5.15,"y":-5.0},{"s":"AccSZOFW","x":5.2,"y":-5.2},{"s":"AccSZOFW","x":5.25,"y":-5.0},{"s":"AccSZOFW","x":5.3,"y":-4.8},{"s":"AccSZOFW","x":5.35,"y":-5.0},{"s":"AccSZOFW","x":5.4,"y":-4.9},{"s":"AccSZOFW","x":5.45,"y":-5.1},{"s":"AccSZOFW","x":5.5,"y":-5.0},{"s":"AccSZOFW","x":5.55,"y":-5.2},{"s":"AccSZOFW","x":5.6,"y":-5.1},{"s":"AccSZOFW","x":5.65,"y":-5.4},{"s":"AccSZOFW","x":5.7,"y":-5.2},{"s":"AccSZOFW","x":5.75,"y":-5.1},{"s":"AccSZOFW","x":5.8,"y":-4.9},{"s":"AccSZOFW","x":5.85,"y":-5.1},
{"s":"ZOFWGD","x":0,"y":-0.65},{"s":"ZOFWGD","x":0.04,"y":-2.2},{"s":"ZOFWGD","x":0.08,"y":-3.0},{"s":"ZOFWGD","x":0.12,"y":-3.3},{"s":"ZOFWGD","x":0.18,"y":-3.5},{"s":"ZOFWGD","x":0.25,"y":-3.7},{"s":"ZOFWGD","x":0.32,"y":-4.0},{"s":"ZOFWGD","x":0.38,"y":-3.9},{"s":"ZOFWGD","x":0.45,"y":-4.3},{"s":"ZOFWGD","x":0.52,"y":-4.4},{"s":"ZOFWGD","x":0.6,"y":-4.4},{"s":"ZOFWGD","x":0.7,"y":-4.5},{"s":"ZOFWGD","x":0.8,"y":-4.6},{"s":"ZOFWGD","x":0.9,"y":-4.7},{"s":"ZOFWGD","x":1.0,"y":-4.9},{"s":"ZOFWGD","x":1.1,"y":-5.0},{"s":"ZOFWGD","x":1.2,"y":-5.2},{"s":"ZOFWGD","x":1.3,"y":-5.1},{"s":"ZOFWGD","x":1.4,"y":-5.3},{"s":"ZOFWGD","x":1.5,"y":-5.2},{"s":"ZOFWGD","x":1.6,"y":-5.4},{"s":"ZOFWGD","x":1.7,"y":-5.3},{"s":"ZOFWGD","x":1.8,"y":-5.5},{"s":"ZOFWGD","x":1.9,"y":-5.6},{"s":"ZOFWGD","x":2.0,"y":-5.5},{"s":"ZOFWGD","x":2.1,"y":-5.7},{"s":"ZOFWGD","x":2.2,"y":-5.6},{"s":"ZOFWGD","x":2.3,"y":-5.8},{"s":"ZOFWGD","x":2.4,"y":-5.7},{"s":"ZOFWGD","x":2.5,"y":-5.9},{"s":"ZOFWGD","x":2.6,"y":-6.0},{"s":"ZOFWGD","x":2.7,"y":-5.8},{"s":"ZOFWGD","x":2.8,"y":-6.0},{"s":"ZOFWGD","x":2.9,"y":-5.8},{"s":"ZOFWGD","x":3.0,"y":-5.9},{"s":"ZOFWGD","x":3.1,"y":-5.7},{"s":"ZOFWGD","x":3.2,"y":-6.1},{"s":"ZOFWGD","x":3.3,"y":-6.1},{"s":"ZOFWGD","x":3.4,"y":-6.3},{"s":"ZOFWGD","x":3.5,"y":-6.1},{"s":"ZOFWGD","x":3.6,"y":-6.3},{"s":"ZOFWGD","x":3.7,"y":-6.2},{"s":"ZOFWGD","x":3.8,"y":-6.1},{"s":"ZOFWGD","x":3.9,"y":-6.3},{"s":"ZOFWGD","x":4.0,"y":-6.0},{"s":"ZOFWGD","x":4.1,"y":-6.2},{"s":"ZOFWGD","x":4.2,"y":-6.3},{"s":"ZOFWGD","x":4.3,"y":-6.2},{"s":"ZOFWGD","x":4.4,"y":-6.4},{"s":"ZOFWGD","x":4.5,"y":-6.3},{"s":"ZOFWGD","x":4.6,"y":-6.2},{"s":"ZOFWGD","x":4.7,"y":-6.4},{"s":"ZOFWGD","x":4.8,"y":-6.3},{"s":"ZOFWGD","x":4.9,"y":-6.5},{"s":"ZOFWGD","x":5.0,"y":-6.3},{"s":"ZOFWGD","x":5.1,"y":-6.4},{"s":"ZOFWGD","x":5.2,"y":-6.3},{"s":"ZOFWGD","x":5.3,"y":-6.4},{"s":"ZOFWGD","x":5.4,"y":-6.5},{"s":"ZOFWGD","x":5.5,"y":-6.4},{"s":"ZOFWGD","x":5.6,"y":-6.6},{"s":"ZOFWGD","x":5.7,"y":-6.4},{"s":"ZOFWGD","x":5.75,"y":-6.3},{"s":"ZOFWGD","x":5.8,"y":-6.35},{"s":"ZOFWGD","x":5.85,"y":-6.3},
{"s":"ZSFW-DVR","x":0,"y":-0.65},{"s":"ZSFW-DVR","x":0.02,"y":-1.5},{"s":"ZSFW-DVR","x":0.04,"y":-2.3},{"s":"ZSFW-DVR","x":0.07,"y":-2.9},{"s":"ZSFW-DVR","x":0.1,"y":-3.2},{"s":"ZSFW-DVR","x":0.14,"y":-3.4},{"s":"ZSFW-DVR","x":0.18,"y":-3.6},{"s":"ZSFW-DVR","x":0.22,"y":-3.7},{"s":"ZSFW-DVR","x":0.26,"y":-3.9},{"s":"ZSFW-DVR","x":0.3,"y":-4.0},{"s":"ZSFW-DVR","x":0.34,"y":-3.9},{"s":"ZSFW-DVR","x":0.38,"y":-4.2},{"s":"ZSFW-DVR","x":0.42,"y":-4.4},{"s":"ZSFW-DVR","x":0.46,"y":-4.3},{"s":"ZSFW-DVR","x":0.5,"y":-4.6},{"s":"ZSFW-DVR","x":0.55,"y":-4.5},{"s":"ZSFW-DVR","x":0.6,"y":-4.8},{"s":"ZSFW-DVR","x":0.65,"y":-4.6},{"s":"ZSFW-DVR","x":0.7,"y":-4.9},{"s":"ZSFW-DVR","x":0.75,"y":-4.7},{"s":"ZSFW-DVR","x":0.8,"y":-5.0},{"s":"ZSFW-DVR","x":0.85,"y":-4.8},{"s":"ZSFW-DVR","x":0.9,"y":-5.1},{"s":"ZSFW-DVR","x":0.95,"y":-5.0},{"s":"ZSFW-DVR","x":1.0,"y":-5.3},{"s":"ZSFW-DVR","x":1.05,"y":-4.9},{"s":"ZSFW-DVR","x":1.1,"y":-5.4},{"s":"ZSFW-DVR","x":1.15,"y":-5.2},{"s":"ZSFW-DVR","x":1.2,"y":-5.6},{"s":"ZSFW-DVR","x":1.25,"y":-5.2},{"s":"ZSFW-DVR","x":1.3,"y":-5.5},{"s":"ZSFW-DVR","x":1.35,"y":-5.3},{"s":"ZSFW-DVR","x":1.4,"y":-5.8},{"s":"ZSFW-DVR","x":1.45,"y":-5.4},{"s":"ZSFW-DVR","x":1.5,"y":-5.7},{"s":"ZSFW-DVR","x":1.55,"y":-5.5},{"s":"ZSFW-DVR","x":1.6,"y":-5.9},{"s":"ZSFW-DVR","x":1.65,"y":-5.6},{"s":"ZSFW-DVR","x":1.7,"y":-6.0},{"s":"ZSFW-DVR","x":1.75,"y":-5.8},{"s":"ZSFW-DVR","x":1.8,"y":-6.3},{"s":"ZSFW-DVR","x":1.85,"y":-5.9},{"s":"ZSFW-DVR","x":1.9,"y":-6.3},{"s":"ZSFW-DVR","x":1.95,"y":-6.0},{"s":"ZSFW-DVR","x":2.0,"y":-6.4},{"s":"ZSFW-DVR","x":2.05,"y":-5.9},{"s":"ZSFW-DVR","x":2.1,"y":-6.3},{"s":"ZSFW-DVR","x":2.15,"y":-6.0},{"s":"ZSFW-DVR","x":2.2,"y":-6.5},{"s":"ZSFW-DVR","x":2.25,"y":-6.1},{"s":"ZSFW-DVR","x":2.3,"y":-6.4},{"s":"ZSFW-DVR","x":2.35,"y":-5.9},{"s":"ZSFW-DVR","x":2.4,"y":-6.3},{"s":"ZSFW-DVR","x":2.45,"y":-6.0},{"s":"ZSFW-DVR","x":2.5,"y":-6.5},{"s":"ZSFW-DVR","x":2.55,"y":-6.1},{"s":"ZSFW-DVR","x":2.6,"y":-6.6},{"s":"ZSFW-DVR","x":2.65,"y":-6.0},{"s":"ZSFW-DVR","x":2.7,"y":-6.5},{"s":"ZSFW-DVR","x":2.75,"y":-6.2},{"s":"ZSFW-DVR","x":2.8,"y":-6.7},{"s":"ZSFW-DVR","x":2.85,"y":-6.2},{"s":"ZSFW-DVR","x":2.9,"y":-6.5},{"s":"ZSFW-DVR","x":2.95,"y":-6.1},{"s":"ZSFW-DVR","x":3.0,"y":-6.6},{"s":"ZSFW-DVR","x":3.05,"y":-6.2},{"s":"ZSFW-DVR","x":3.1,"y":-6.5},{"s":"ZSFW-DVR","x":3.15,"y":-6.0},{"s":"ZSFW-DVR","x":3.2,"y":-6.6},{"s":"ZSFW-DVR","x":3.25,"y":-6.3},{"s":"ZSFW-DVR","x":3.3,"y":-6.5},{"s":"ZSFW-DVR","x":3.35,"y":-6.2},{"s":"ZSFW-DVR","x":3.4,"y":-6.7},{"s":"ZSFW-DVR","x":3.45,"y":-6.3},{"s":"ZSFW-DVR","x":3.5,"y":-6.6},{"s":"ZSFW-DVR","x":3.55,"y":-6.4},{"s":"ZSFW-DVR","x":3.6,"y":-6.8},{"s":"ZSFW-DVR","x":3.65,"y":-6.3},{"s":"ZSFW-DVR","x":3.7,"y":-6.5},{"s":"ZSFW-DVR","x":3.75,"y":-6.3},{"s":"ZSFW-DVR","x":3.8,"y":-6.6},{"s":"ZSFW-DVR","x":3.85,"y":-6.3},{"s":"ZSFW-DVR","x":3.9,"y":-6.5},{"s":"ZSFW-DVR","x":3.95,"y":-6.2},{"s":"ZSFW-DVR","x":4.0,"y":-6.6},{"s":"ZSFW-DVR","x":4.05,"y":-6.3},{"s":"ZSFW-DVR","x":4.1,"y":-6.5},{"s":"ZSFW-DVR","x":4.15,"y":-6.2},{"s":"ZSFW-DVR","x":4.2,"y":-6.4},{"s":"ZSFW-DVR","x":4.25,"y":-6.5},{"s":"ZSFW-DVR","x":4.3,"y":-6.3},{"s":"ZSFW-DVR","x":4.35,"y":-6.5},{"s":"ZSFW-DVR","x":4.4,"y":-6.3},{"s":"ZSFW-DVR","x":4.45,"y":-6.5},{"s":"ZSFW-DVR","x":4.5,"y":-6.4},{"s":"ZSFW-DVR","x":4.55,"y":-6.6},{"s":"ZSFW-DVR","x":4.6,"y":-6.3},{"s":"ZSFW-DVR","x":4.65,"y":-6.1},{"s":"ZSFW-DVR","x":4.7,"y":-5.95},{"s":"ZSFW-DVR","x":4.75,"y":-6.4},{"s":"ZSFW-DVR","x":4.8,"y":-6.6},{"s":"ZSFW-DVR","x":4.85,"y":-6.4},{"s":"ZSFW-DVR","x":4.9,"y":-6.6},{"s":"ZSFW-DVR","x":4.95,"y":-6.4},{"s":"ZSFW-DVR","x":5.0,"y":-6.5},{"s":"ZSFW-DVR","x":5.05,"y":-6.3},{"s":"ZSFW-DVR","x":5.1,"y":-6.6},{"s":"ZSFW-DVR","x":5.15,"y":-6.4},{"s":"ZSFW-DVR","x":5.2,"y":-6.5},{"s":"ZSFW-DVR","x":5.25,"y":-6.4},{"s":"ZSFW-DVR","x":5.3,"y":-6.6},{"s":"ZSFW-DVR","x":5.35,"y":-6.5},{"s":"ZSFW-DVR","x":5.4,"y":-6.6},{"s":"ZSFW-DVR","x":5.45,"y":-6.4},{"s":"ZSFW-DVR","x":5.5,"y":-6.6},{"s":"ZSFW-DVR","x":5.55,"y":-6.5},{"s":"ZSFW-DVR","x":5.6,"y":-6.7},{"s":"ZSFW-DVR","x":5.65,"y":-6.5},{"s":"ZSFW-DVR","x":5.7,"y":-6.6},{"s":"ZSFW-DVR","x":5.75,"y":-6.8},{"s":"ZSFW-DVR","x":5.8,"y":-6.6},{"s":"ZSFW-DVR","x":5.85,"y":-6.6}
],
"d":[
{"s":"ZOFWSGD","x":0,"y":-2.0},{"s":"ZOFWSGD","x":0.01,"y":-2.9},{"s":"ZOFWSGD","x":0.02,"y":-2.7},{"s":"ZOFWSGD","x":0.03,"y":-3.3},{"s":"ZOFWSGD","x":0.04,"y":-3.0},{"s":"ZOFWSGD","x":0.06,"y":-3.6},{"s":"ZOFWSGD","x":0.08,"y":-3.1},{"s":"ZOFWSGD","x":0.1,"y":-3.8},{"s":"ZOFWSGD","x":0.12,"y":-3.4},{"s":"ZOFWSGD","x":0.14,"y":-4.1},{"s":"ZOFWSGD","x":0.16,"y":-3.6},{"s":"ZOFWSGD","x":0.18,"y":-4.3},{"s":"ZOFWSGD","x":0.2,"y":-3.7},{"s":"ZOFWSGD","x":0.22,"y":-4.1},{"s":"ZOFWSGD","x":0.24,"y":-3.6},{"s":"ZOFWSGD","x":0.26,"y":-4.2},{"s":"ZOFWSGD","x":0.28,"y":-3.8},{"s":"ZOFWSGD","x":0.3,"y":-4.4},{"s":"ZOFWSGD","x":0.32,"y":-3.9},{"s":"ZOFWSGD","x":0.34,"y":-4.6},{"s":"ZOFWSGD","x":0.36,"y":-4.0},{"s":"ZOFWSGD","x":0.38,"y":-4.8},{"s":"ZOFWSGD","x":0.4,"y":-4.1},{"s":"ZOFWSGD","x":0.42,"y":-4.5},{"s":"ZOFWSGD","x":0.44,"y":-3.9},{"s":"ZOFWSGD","x":0.46,"y":-4.7},{"s":"ZOFWSGD","x":0.48,"y":-4.0},{"s":"ZOFWSGD","x":0.5,"y":-4.6},{"s":"ZOFWSGD","x":0.52,"y":-3.9},{"s":"ZOFWSGD","x":0.55,"y":-4.9},{"s":"ZOFWSGD","x":0.58,"y":-4.1},{"s":"ZOFWSGD","x":0.61,"y":-5.0},{"s":"ZOFWSGD","x":0.64,"y":-4.3},{"s":"ZOFWSGD","x":0.67,"y":-3.9},{"s":"ZOFWSGD","x":0.7,"y":-4.6},{"s":"ZOFWSGD","x":0.73,"y":-4.0},{"s":"ZOFWSGD","x":0.76,"y":-4.8},{"s":"ZOFWSGD","x":0.79,"y":-4.4},{"s":"ZOFWSGD","x":0.82,"y":-4.9},{"s":"ZOFWSGD","x":0.85,"y":-4.3},{"s":"ZOFWSGD","x":0.88,"y":-5.1},{"s":"ZOFWSGD","x":0.91,"y":-4.4},{"s":"ZOFWSGD","x":0.94,"y":-5.0},{"s":"ZOFWSGD","x":0.97,"y":-4.6},{"s":"ZOFWSGD","x":1.0,"y":-5.0},{"s":"ZOFWSGD","x":1.03,"y":-4.4},{"s":"ZOFWSGD","x":1.06,"y":-4.0},{"s":"ZOFWSGD","x":1.09,"y":-4.7},{"s":"ZOFWSGD","x":1.12,"y":-4.2},{"s":"ZOFWSGD","x":1.15,"y":-4.9},{"s":"ZOFWSGD","x":1.18,"y":-4.5},{"s":"ZOFWSGD","x":1.21,"y":-4.0},{"s":"ZOFWSGD","x":1.24,"y":-4.8},{"s":"ZOFWSGD","x":1.27,"y":-5.5},{"s":"ZOFWSGD","x":1.3,"y":-4.4},{"s":"ZOFWSGD","x":1.33,"y":-5.3},{"s":"ZOFWSGD","x":1.36,"y":-4.5},{"s":"ZOFWSGD","x":1.39,"y":-3.85},{"s":"ZOFWSGD","x":1.42,"y":-4.2},{"s":"ZOFWSGD","x":1.45,"y":-4.9},{"s":"ZOFWSGD","x":1.48,"y":-4.4},{"s":"ZOFWSGD","x":1.51,"y":-4.8},{"s":"ZOFWSGD","x":1.54,"y":-4.3},{"s":"ZOFWSGD","x":1.57,"y":-5.1},{"s":"ZOFWSGD","x":1.6,"y":-4.6},{"s":"ZOFWSGD","x":1.63,"y":-5.3},{"s":"ZOFWSGD","x":1.66,"y":-4.4},{"s":"ZOFWSGD","x":1.7,"y":-4.0},{"s":"ZOFWSGD","x":1.73,"y":-4.5},{"s":"ZOFWSGD","x":1.76,"y":-4.2},{"s":"ZOFWSGD","x":1.79,"y":-4.8},{"s":"ZOFWSGD","x":1.82,"y":-4.4},{"s":"ZOFWSGD","x":1.85,"y":-5.0},{"s":"ZOFWSGD","x":1.88,"y":-4.5},{"s":"ZOFWSGD","x":1.91,"y":-4.9},{"s":"ZOFWSGD","x":1.94,"y":-4.4},{"s":"ZOFWSGD","x":1.97,"y":-5.1},{"s":"ZOFWSGD","x":2.0,"y":-4.6},{"s":"ZOFWSGD","x":2.03,"y":-4.4},{"s":"ZOFWSGD","x":2.06,"y":-5.2},{"s":"ZOFWSGD","x":2.09,"y":-4.5},{"s":"ZOFWSGD","x":2.12,"y":-4.9},{"s":"ZOFWSGD","x":2.15,"y":-4.3},{"s":"ZOFWSGD","x":2.18,"y":-4.8},{"s":"ZOFWSGD","x":2.21,"y":-4.5},{"s":"ZOFWSGD","x":2.24,"y":-5.0},{"s":"ZOFWSGD","x":2.27,"y":-4.7},{"s":"ZOFWSGD","x":2.3,"y":-4.3},{"s":"ZOFWSGD","x":2.33,"y":-4.9},{"s":"ZOFWSGD","x":2.36,"y":-4.5},{"s":"ZOFWSGD","x":2.4,"y":-4.3},{"s":"ZOFWSGD","x":2.43,"y":-4.8},{"s":"ZOFWSGD","x":2.46,"y":-4.4},{"s":"ZOFWSGD","x":2.5,"y":-5.1},{"s":"ZOFWSGD","x":2.53,"y":-4.6},{"s":"ZOFWSGD","x":2.56,"y":-5.0},{"s":"ZOFWSGD","x":2.59,"y":-4.5},{"s":"ZOFWSGD","x":2.62,"y":-5.4},{"s":"ZOFWSGD","x":2.65,"y":-5.8},{"s":"ZOFWSGD","x":2.68,"y":-4.9},{"s":"ZOFWSGD","x":2.71,"y":-4.4},{"s":"ZOFWSGD","x":2.74,"y":-5.0},{"s":"ZOFWSGD","x":2.77,"y":-4.6},{"s":"ZOFWSGD","x":2.8,"y":-5.3},{"s":"ZOFWSGD","x":2.83,"y":-4.7},{"s":"ZOFWSGD","x":2.86,"y":-5.5},{"s":"ZOFWSGD","x":2.89,"y":-4.8},{"s":"ZOFWSGD","x":2.92,"y":-5.6},{"s":"ZOFWSGD","x":2.95,"y":-5.0},{"s":"ZOFWSGD","x":2.98,"y":-4.6},{"s":"ZOFWSGD","x":3.01,"y":-5.2},{"s":"ZOFWSGD","x":3.04,"y":-4.7},{"s":"ZOFWSGD","x":3.07,"y":-5.1},{"s":"ZOFWSGD","x":3.1,"y":-4.5},{"s":"ZOFWSGD","x":3.13,"y":-5.0},{"s":"ZOFWSGD","x":3.16,"y":-4.4},{"s":"ZOFWSGD","x":3.19,"y":-4.9},{"s":"ZOFWSGD","x":3.22,"y":-4.6},{"s":"ZOFWSGD","x":3.25,"y":-5.2},{"s":"ZOFWSGD","x":3.28,"y":-4.5},{"s":"ZOFWSGD","x":3.31,"y":-4.9},{"s":"ZOFWSGD","x":3.34,"y":-4.6},{"s":"ZOFWSGD","x":3.37,"y":-5.1},{"s":"ZOFWSGD","x":3.4,"y":-4.5},{"s":"ZOFWSGD","x":3.43,"y":-4.9},{"s":"ZOFWSGD","x":3.46,"y":-4.6},{"s":"ZOFWSGD","x":3.49,"y":-5.6},{"s":"ZOFWSGD","x":3.52,"y":-5.0},{"s":"ZOFWSGD","x":3.55,"y":-4.8},{"s":"ZOFWSGD","x":3.58,"y":-4.9},{"s":"ZOFWSGD","x":3.6,"y":-4.9},
{"s":"AccSZOFW","x":0,"y":-0.66},{"s":"AccSZOFW","x":0.16,"y":-1.63},{"s":"AccSZOFW","x":0.28,"y":-2.7},{"s":"AccSZOFW","x":0.4,"y":-3.88},{"s":"AccSZOFW","x":0.46,"y":-4.56},{"s":"AccSZOFW","x":0.51,"y":-5.44},{"s":"AccSZOFW","x":0.56,"y":-5.54},{"s":"AccSZOFW","x":0.76,"y":-5.73},{"s":"AccSZOFW","x":1.11,"y":-5.21},{"s":"AccSZOFW","x":1.25,"y":-5.55},{"s":"AccSZOFW","x":1.4,"y":-5.6},{"s":"AccSZOFW","x":1.62,"y":-5.35},{"s":"AccSZOFW","x":1.8,"y":-5.7},{"s":"AccSZOFW","x":2.05,"y":-5.4},{"s":"AccSZOFW","x":2.14,"y":-6.0},{"s":"AccSZOFW","x":2.4,"y":-5.6},{"s":"AccSZOFW","x":2.65,"y":-5.7},{"s":"AccSZOFW","x":2.8,"y":-5.1},{"s":"AccSZOFW","x":2.95,"y":-5.7},{"s":"AccSZOFW","x":3.1,"y":-5.45},{"s":"AccSZOFW","x":3.35,"y":-5.85},{"s":"AccSZOFW","x":3.6,"y":-5.6},
{"s":"ZOFWGD","x":0,"y":-0.65},{"s":"ZOFWGD","x":0.06,"y":-1.3},{"s":"ZOFWGD","x":0.12,"y":-1.83},{"s":"ZOFWGD","x":0.2,"y":-2.41},{"s":"ZOFWGD","x":0.26,"y":-2.9},{"s":"ZOFWGD","x":0.3,"y":-3.34},{"s":"ZOFWGD","x":0.34,"y":-3.58},{"s":"ZOFWGD","x":0.38,"y":-3.68},{"s":"ZOFWGD","x":0.44,"y":-3.78},{"s":"ZOFWGD","x":0.52,"y":-3.98},{"s":"ZOFWGD","x":0.6,"y":-3.88},{"s":"ZOFWGD","x":0.64,"y":-4.17},{"s":"ZOFWGD","x":0.7,"y":-4.07},{"s":"ZOFWGD","x":0.76,"y":-4.22},{"s":"ZOFWGD","x":0.845,"y":-4.32},{"s":"ZOFWGD","x":0.925,"y":-4.46},{"s":"ZOFWGD","x":1.006,"y":-4.27},{"s":"ZOFWGD","x":1.086,"y":-4.56},{"s":"ZOFWGD","x":1.167,"y":-4.66},{"s":"ZOFWGD","x":1.247,"y":-4.95},{"s":"ZOFWGD","x":1.327,"y":-4.61},{"s":"ZOFWGD","x":1.408,"y":-4.76},{"s":"ZOFWGD","x":1.488,"y":-4.56},{"s":"ZOFWGD","x":1.569,"y":-4.71},{"s":"ZOFWGD","x":1.649,"y":-4.76},{"s":"ZOFWGD","x":1.71,"y":-5.24},{"s":"ZOFWGD","x":1.81,"y":-5.0},{"s":"ZOFWGD","x":1.89,"y":-5.15},{"s":"ZOFWGD","x":1.97,"y":-4.76},{"s":"ZOFWGD","x":2.05,"y":-5.0},{"s":"ZOFWGD","x":2.13,"y":-5.15},{"s":"ZOFWGD","x":2.25,"y":-5.15},{"s":"ZOFWGD","x":2.33,"y":-5.39},{"s":"ZOFWGD","x":2.45,"y":-5.34},{"s":"ZOFWGD","x":2.53,"y":-5.24},{"s":"ZOFWGD","x":2.61,"y":-5.54},{"s":"ZOFWGD","x":2.69,"y":-5.34},{"s":"ZOFWGD","x":2.78,"y":-5.63},{"s":"ZOFWGD","x":2.86,"y":-5.39},{"s":"ZOFWGD","x":2.94,"y":-5.59},{"s":"ZOFWGD","x":3.02,"y":-5.54},{"s":"ZOFWGD","x":3.14,"y":-5.93},{"s":"ZOFWGD","x":3.18,"y":-5.34},{"s":"ZOFWGD","x":3.26,"y":-5.54},{"s":"ZOFWGD","x":3.34,"y":-5.73},{"s":"ZOFWGD","x":3.42,"y":-5.88},{"s":"ZOFWGD","x":3.5,"y":-5.54},{"s":"ZOFWGD","x":3.58,"y":-5.63},
{"s":"ZSFW-DVR","x":0,"y":-0.6},{"s":"ZSFW-DVR","x":0.02,"y":-0.9},{"s":"ZSFW-DVR","x":0.04,"y":-1.15},{"s":"ZSFW-DVR","x":0.06,"y":-1.0},{"s":"ZSFW-DVR","x":0.08,"y":-1.1},{"s":"ZSFW-DVR","x":0.1,"y":-2.22},{"s":"ZSFW-DVR","x":0.12,"y":-2.2},{"s":"ZSFW-DVR","x":0.14,"y":-2.32},{"s":"ZSFW-DVR","x":0.16,"y":-2.07},{"s":"ZSFW-DVR","x":0.18,"y":-2.4},{"s":"ZSFW-DVR","x":0.2,"y":-2.61},{"s":"ZSFW-DVR","x":0.22,"y":-3.1},{"s":"ZSFW-DVR","x":0.24,"y":-3.59},{"s":"ZSFW-DVR","x":0.26,"y":-3.8},{"s":"ZSFW-DVR","x":0.28,"y":-3.98},{"s":"ZSFW-DVR","x":0.3,"y":-4.07},{"s":"ZSFW-DVR","x":0.32,"y":-5.0},{"s":"ZSFW-DVR","x":0.35,"y":-4.9},{"s":"ZSFW-DVR","x":0.38,"y":-5.15},{"s":"ZSFW-DVR","x":0.42,"y":-5.44},{"s":"ZSFW-DVR","x":0.45,"y":-5.3},{"s":"ZSFW-DVR","x":0.48,"y":-5.73},{"s":"ZSFW-DVR","x":0.52,"y":-6.12},{"s":"ZSFW-DVR","x":0.55,"y":-5.8},{"s":"ZSFW-DVR","x":0.58,"y":-6.1},{"s":"ZSFW-DVR","x":0.61,"y":-5.7},{"s":"ZSFW-DVR","x":0.64,"y":-6.3},{"s":"ZSFW-DVR","x":0.67,"y":-5.9},{"s":"ZSFW-DVR","x":0.7,"y":-6.2},{"s":"ZSFW-DVR","x":0.73,"y":-6.6},{"s":"ZSFW-DVR","x":0.76,"y":-5.8},{"s":"ZSFW-DVR","x":0.79,"y":-6.3},{"s":"ZSFW-DVR","x":0.82,"y":-6.0},{"s":"ZSFW-DVR","x":0.85,"y":-6.5},{"s":"ZSFW-DVR","x":0.88,"y":-6.1},{"s":"ZSFW-DVR","x":0.91,"y":-6.6},{"s":"ZSFW-DVR","x":0.94,"y":-6.2},{"s":"ZSFW-DVR","x":0.97,"y":-6.4},{"s":"ZSFW-DVR","x":1.0,"y":-6.0},{"s":"ZSFW-DVR","x":1.03,"y":-6.5},{"s":"ZSFW-DVR","x":1.06,"y":-6.2},{"s":"ZSFW-DVR","x":1.09,"y":-6.6},{"s":"ZSFW-DVR","x":1.11,"y":-5.6},{"s":"ZSFW-DVR","x":1.14,"y":-6.2},{"s":"ZSFW-DVR","x":1.17,"y":-6.0},{"s":"ZSFW-DVR","x":1.2,"y":-6.5},{"s":"ZSFW-DVR","x":1.23,"y":-6.2},{"s":"ZSFW-DVR","x":1.26,"y":-6.7},{"s":"ZSFW-DVR","x":1.29,"y":-6.3},{"s":"ZSFW-DVR","x":1.32,"y":-6.6},{"s":"ZSFW-DVR","x":1.35,"y":-6.3},{"s":"ZSFW-DVR","x":1.38,"y":-6.8},{"s":"ZSFW-DVR","x":1.42,"y":-6.4},{"s":"ZSFW-DVR","x":1.45,"y":-7.0},{"s":"ZSFW-DVR","x":1.48,"y":-6.5},{"s":"ZSFW-DVR","x":1.51,"y":-6.8},{"s":"ZSFW-DVR","x":1.54,"y":-6.4},{"s":"ZSFW-DVR","x":1.57,"y":-6.6},{"s":"ZSFW-DVR","x":1.6,"y":-6.3},{"s":"ZSFW-DVR","x":1.63,"y":-6.8},{"s":"ZSFW-DVR","x":1.66,"y":-6.5},{"s":"ZSFW-DVR","x":1.69,"y":-6.7},{"s":"ZSFW-DVR","x":1.72,"y":-6.3},{"s":"ZSFW-DVR","x":1.75,"y":-6.6},{"s":"ZSFW-DVR","x":1.78,"y":-6.4},{"s":"ZSFW-DVR","x":1.81,"y":-6.8},{"s":"ZSFW-DVR","x":1.84,"y":-6.5},{"s":"ZSFW-DVR","x":1.87,"y":-6.3},{"s":"ZSFW-DVR","x":1.9,"y":-6.6},{"s":"ZSFW-DVR","x":1.93,"y":-6.4},{"s":"ZSFW-DVR","x":1.96,"y":-6.9},{"s":"ZSFW-DVR","x":1.99,"y":-6.5},{"s":"ZSFW-DVR","x":2.02,"y":-6.7},{"s":"ZSFW-DVR","x":2.05,"y":-6.4},{"s":"ZSFW-DVR","x":2.08,"y":-6.6},{"s":"ZSFW-DVR","x":2.11,"y":-6.3},{"s":"ZSFW-DVR","x":2.14,"y":-6.7},{"s":"ZSFW-DVR","x":2.17,"y":-6.4},{"s":"ZSFW-DVR","x":2.2,"y":-6.6},{"s":"ZSFW-DVR","x":2.23,"y":-6.3},{"s":"ZSFW-DVR","x":2.26,"y":-6.5},{"s":"ZSFW-DVR","x":2.29,"y":-6.2},{"s":"ZSFW-DVR","x":2.32,"y":-6.4},{"s":"ZSFW-DVR","x":2.35,"y":-6.6},{"s":"ZSFW-DVR","x":2.38,"y":-6.15},{"s":"ZSFW-DVR","x":2.41,"y":-6.15},{"s":"ZSFW-DVR","x":2.44,"y":-6.5},{"s":"ZSFW-DVR","x":2.47,"y":-6.7},{"s":"ZSFW-DVR","x":2.5,"y":-6.4},{"s":"ZSFW-DVR","x":2.53,"y":-6.6},{"s":"ZSFW-DVR","x":2.56,"y":-6.3},{"s":"ZSFW-DVR","x":2.59,"y":-6.8},{"s":"ZSFW-DVR","x":2.62,"y":-6.5},{"s":"ZSFW-DVR","x":2.65,"y":-6.6},{"s":"ZSFW-DVR","x":2.68,"y":-6.3},{"s":"ZSFW-DVR","x":2.71,"y":-6.5},{"s":"ZSFW-DVR","x":2.74,"y":-6.2},{"s":"ZSFW-DVR","x":2.77,"y":-6.6},{"s":"ZSFW-DVR","x":2.8,"y":-6.4},{"s":"ZSFW-DVR","x":2.83,"y":-6.7},{"s":"ZSFW-DVR","x":2.86,"y":-6.9},{"s":"ZSFW-DVR","x":2.89,"y":-6.4},{"s":"ZSFW-DVR","x":2.92,"y":-6.7},{"s":"ZSFW-DVR","x":2.95,"y":-6.5},{"s":"ZSFW-DVR","x":2.98,"y":-6.8},{"s":"ZSFW-DVR","x":3.01,"y":-6.6},{"s":"ZSFW-DVR","x":3.04,"y":-7.0},{"s":"ZSFW-DVR","x":3.07,"y":-6.6},{"s":"ZSFW-DVR","x":3.1,"y":-6.8},{"s":"ZSFW-DVR","x":3.13,"y":-6.4},{"s":"ZSFW-DVR","x":3.16,"y":-6.7},{"s":"ZSFW-DVR","x":3.19,"y":-6.3},{"s":"ZSFW-DVR","x":3.22,"y":-6.6},{"s":"ZSFW-DVR","x":3.25,"y":-6.4},{"s":"ZSFW-DVR","x":3.28,"y":-6.8},{"s":"ZSFW-DVR","x":3.31,"y":-6.3},{"s":"ZSFW-DVR","x":3.34,"y":-6.6},{"s":"ZSFW-DVR","x":3.37,"y":-6.3},{"s":"ZSFW-DVR","x":3.4,"y":-6.7},{"s":"ZSFW-DVR","x":3.43,"y":-6.4},{"s":"ZSFW-DVR","x":3.46,"y":-7.0},{"s":"ZSFW-DVR","x":3.49,"y":-6.4},{"s":"ZSFW-DVR","x":3.52,"y":-6.6},{"s":"ZSFW-DVR","x":3.55,"y":-6.1},{"s":"ZSFW-DVR","x":3.58,"y":-6.8},{"s":"ZSFW-DVR","x":3.6,"y":-6.4}
]
},
"spacing":30,
"resolve":{"scale":{"x":"independent","y":"independent","color":"independent","strokeDash":"independent"},"legend":{"color":"independent","strokeDash":"independent"}},
"vconcat":[
{"spacing":10,
"resolve":{"scale":{"x":"independent","y":"independent","color":"independent","strokeDash":"independent"},"legend":{"color":"independent","strokeDash":"independent"}},
"hconcat":[
{"width":325,"height":240,"title":{"text":"(a) RCV1","orient":"bottom","anchor":"middle","frame":"bounds","offset":18},
"layer":[
{"data":{"name":"a"},"mark":{"type":"line","strokeWidth":1.1},
"encoding":{
"x":{"field":"x","type":"quantitative","scale":{"domain":[-0.0508,1.0508],"nice":false,"zero":false},"axis":{"values":[0,0.2,0.4,0.6,0.8,1.0],"format":".1f","title":"# Oracles","tickCount":12}},
"y":{"field":"y","type":"quantitative","scale":{"domain":[-6.82,-0.83],"nice":false,"zero":false},"axis":{"values":[-6,-5,-4,-3,-2,-1],"format":"d","title":"log (𝑓 − 𝑓*)","tickCount":12}},
"color":{"field":"s","type":"nominal","scale":{"domain":["ZOFWSGD","AccSZOFW","ZOFWGD","ZSFW-DVR"],"range":["#1f77b4","#ff7f0e","#2ca02c","#d62728"]},"legend":{"title":null}},
"strokeDash":{"field":"s","type":"nominal","scale":{"domain":["ZOFWSGD","AccSZOFW","ZOFWGD","ZSFW-DVR"],"range":[[1.2,1.6],[3.5,1.5],[5,1.5,1,1.5],[1,0]]},"legend":{"title":null}}}},
{"data":{"values":[{}]},"mark":{"type":"text","align":"right","baseline":"top","fontSize":7,"color":"#333","dy":17},"encoding":{"x":{"datum":1.0508},"y":{"datum":-6.82},"text":{"value":"1e11"}}}
]},
{"width":322,"height":240,"title":{"text":"(b) Real-Sim","orient":"bottom","anchor":"middle","frame":"bounds","offset":18},
"layer":[
{"data":{"name":"b"},"mark":{"type":"line","strokeWidth":1.1},
"encoding":{
"x":{"field":"x","type":"quantitative","scale":{"domain":[-0.0694,1.421],"nice":false,"zero":false},"axis":{"values":[0,0.2,0.4,0.6,0.8,1.0,1.2,1.4],"format":".1f","title":"# Oracles","tickCount":12}},
"y":{"field":"y","type":"quantitative","scale":{"domain":[-7.03,-0.74],"nice":false,"zero":false},"axis":{"values":[-7,-6,-5,-4,-3,-2,-1],"format":"d","title":"log (𝑓 − 𝑓*)","tickCount":12}},
"color":{"field":"s","type":"nominal","scale":{"domain":["ZOFWSGD","AccSZOFW","ZOFWGD","ZSFW-DVR"],"range":["#1f77b4","#ff7f0e","#2ca02c","#d62728"]},"legend":{"title":null}},
"strokeDash":{"field":"s","type":"nominal","scale":{"domain":["ZOFWSGD","AccSZOFW","ZOFWGD","ZSFW-DVR"],"range":[[1.2,1.6],[3.5,1.5],[5,1.5,1,1.5],[1,0]]},"legend":{"title":null}}}},
{"data":{"values":[{}]},"mark":{"type":"text","align":"right","baseline":"top","fontSize":7,"color":"#333","dy":19,"dx":-2},"encoding":{"x":{"datum":1.421},"y":{"datum":-7.03},"text":{"value":"1e11"}}}
]}
]},
{"spacing":10,
"resolve":{"scale":{"x":"independent","y":"independent","color":"independent","strokeDash":"independent"},"legend":{"color":"independent","strokeDash":"independent"}},
"hconcat":[
{"width":325,"height":241,"title":{"text":"(c) a9a","orient":"bottom","anchor":"middle","frame":"bounds","offset":18},
"layer":[
{"data":{"name":"c"},"mark":{"type":"line","strokeWidth":1.1},
"encoding":{
"x":{"field":"x","type":"quantitative","scale":{"domain":[-0.29,6.12],"nice":false,"zero":false},"axis":{"values":[0,1,2,3,4,5,6],"format":"d","title":"# Oracles","tickCount":12}},
"y":{"field":"y","type":"quantitative","scale":{"domain":[-7.2,-0.37],"nice":false,"zero":false},"axis":{"values":[-7,-6,-5,-4,-3,-2,-1],"format":"d","title":"log (𝑓 − 𝑓*)","tickCount":12}},
"color":{"field":"s","type":"nominal","scale":{"domain":["ZOFWSGD","AccSZOFW","ZOFWGD","ZSFW-DVR"],"range":["#1f77b4","#ff7f0e","#2ca02c","#d62728"]},"legend":{"title":null}},
"strokeDash":{"field":"s","type":"nominal","scale":{"domain":["ZOFWSGD","AccSZOFW","ZOFWGD","ZSFW-DVR"],"range":[[1.2,1.6],[3.5,1.5],[5,1.5,1,1.5],[1,0]]},"legend":{"title":null}}}},
{"data":{"values":[{}]},"mark":{"type":"text","align":"right","baseline":"top","fontSize":7,"color":"#333","dy":16},"encoding":{"x":{"datum":6.12},"y":{"datum":-7.2},"text":{"value":"1e9"}}}
]},
{"width":323,"height":240,"title":{"text":"(d) w8a","orient":"bottom","anchor":"middle","frame":"bounds","offset":18},
"layer":[
{"data":{"name":"d"},"mark":{"type":"line","strokeWidth":1.1},
"encoding":{
"x":{"field":"x","type":"quantitative","scale":{"domain":[-0.18,3.72],"nice":false,"zero":false},"axis":{"values":[0,0.5,1.0,1.5,2.0,2.5,3.0,3.5],"format":".1f","title":"# Oracles","tickCount":12}},
"y":{"field":"y","type":"quantitative","scale":{"domain":[-7.32,-0.3],"nice":false,"zero":false},"axis":{"values":[-7,-6,-5,-4,-3,-2,-1],"format":"d","title":"log (𝑓 − 𝑓*)","tickCount":12}},
"color":{"field":"s","type":"nominal","scale":{"domain":["ZOFWSGD","AccSZOFW","ZOFWGD","ZSFW-DVR"],"range":["#1f77b4","#ff7f0e","#2ca02c","#d62728"]},"legend":{"title":null}},
"strokeDash":{"field":"s","type":"nominal","scale":{"domain":["ZOFWSGD","AccSZOFW","ZOFWGD","ZSFW-DVR"],"range":[[1.2,1.6],[3.5,1.5],[5,1.5,1,1.5],[1,0]]},"legend":{"title":null}}}},
{"data":{"values":[{}]},"mark":{"type":"text","align":"right","baseline":"top","fontSize":7,"color":"#333","dy":16},"encoding":{"x":{"datum":3.72},"y":{"datum":-7.32},"text":{"value":"1e9"}}}
]}
]}
]
}
